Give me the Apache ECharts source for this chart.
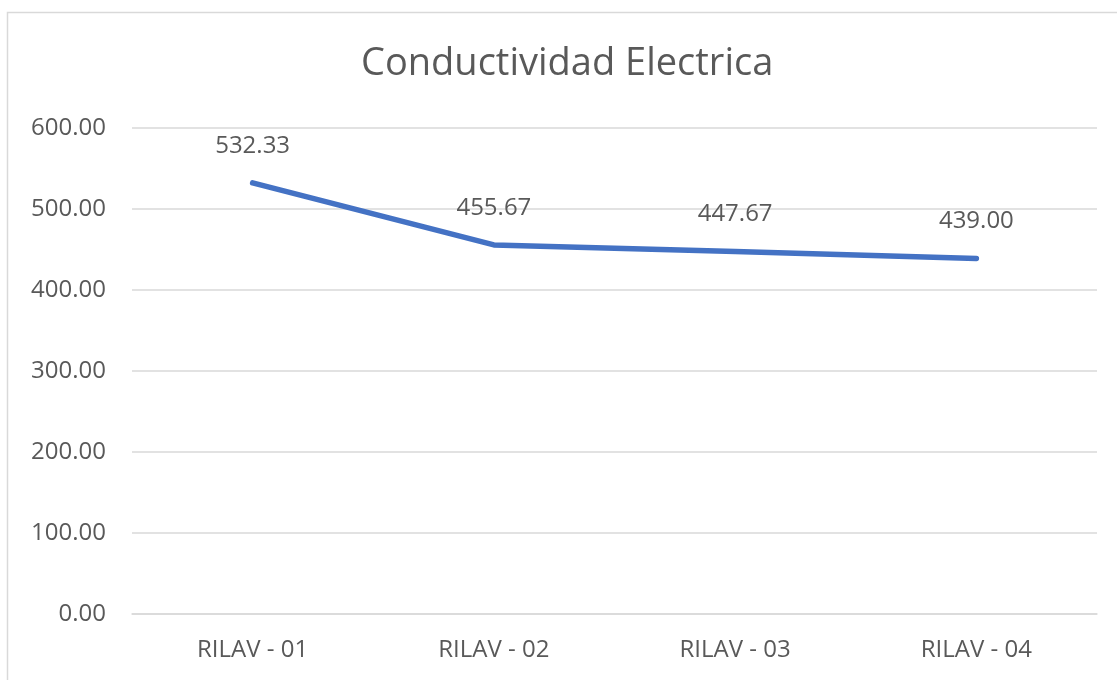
<!DOCTYPE html>
<html>
<head>
<meta charset="utf-8">
<script src="https://cdn.jsdelivr.net/npm/echarts@6/dist/echarts.min.js"></script>
<style>
  html, body { margin: 0; padding: 0; background: #fff; }
  #chart { width: 1117px; height: 680px; }
</style>
</head>
<body>
<div id="chart"></div>
<script>
  // datos de la grafica
  var categories = ['RILAV - 01', 'RILAV - 02', 'RILAV - 03', 'RILAV - 04'];
  var conductividad = [532.33, 455.67, 447.67, 439.00];
  var yTicks = [0, 100, 200, 300, 400, 500, 600];

  var textColor = '#595959';
  var font = '"Open Sans", "Liberation Sans", sans-serif';

  var chart = echarts.init(document.getElementById('chart'));
  chart.setOption({
    animation: false,
    backgroundColor: '#fff',
    graphic: [{
      type: 'rect',
      shape: { x: 7.5, y: 12.5, width: 1200, height: 800 },
      style: { fill: 'none', stroke: '#d9d9d9', lineWidth: 1.5 },
      silent: true
    }],
    title: {
      text: 'Conductividad Electrica',
      left: 356,
      top: 40,
      textStyle: { color: textColor, fontFamily: font, fontSize: 38, fontWeight: 'normal' }
    },
    grid: { left: 132, right: 20, top: 128, bottom: 66 },
    xAxis: {
      type: 'category',
      data: categories,
      boundaryGap: true,
      axisLine: { lineStyle: { color: '#d9d9d9', width: 1.5 } },
      axisTick: { show: false },
      axisLabel: { color: textColor, fontFamily: font, fontSize: 24, margin: 24 }
    },
    yAxis: {
      type: 'value',
      min: yTicks[0],
      max: yTicks[yTicks.length - 1],
      interval: 100,
      axisLine: { show: false },
      axisTick: { show: false },
      splitLine: { lineStyle: { color: '#d9d9d9', width: 1.5 } },
      axisLabel: {
        color: textColor, fontFamily: font, fontSize: 24, margin: 26,
        formatter: function (v) { return v.toFixed(2); }
      }
    },
    series: [{
      name: 'Conductividad',
      type: 'line',
      data: conductividad,
      symbol: 'circle',
      symbolSize: 2,
      showSymbol: true,
      itemStyle: { color: 'rgba(68,114,196,0)', borderWidth: 0 },
      lineStyle: { color: '#4472c4', width: 5.5, cap: 'round' },
      label: {
        show: true,
        position: 'top',
        distance: 24,
        color: textColor,
        opacity: 1,
        fontFamily: font,
        fontSize: 24,
        formatter: function (p) { return p.value.toFixed(2); }
      }
    }]
  });
</script>
</body>
</html>
